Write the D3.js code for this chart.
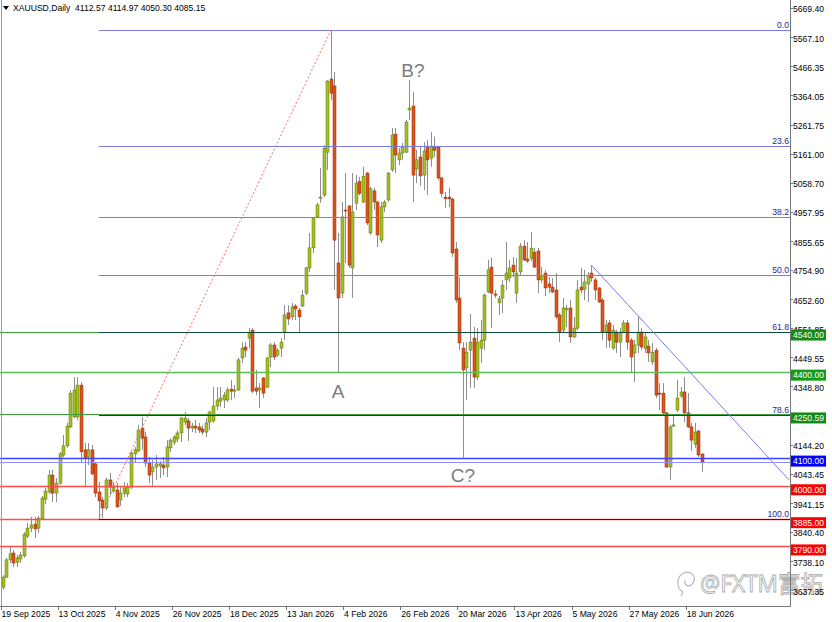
<!DOCTYPE html>
<html>
<head>
<meta charset="utf-8">
<script src="https://cdn.jsdelivr.net/npm/d3@7/dist/d3.min.js"></script>
<style>
  body { margin: 0; background: #fff; }
  svg { display: block; font-family: "Liberation Sans", Arial, sans-serif; }
</style>
</head>
<body>
<svg id="chart" width="832" height="622"></svg>
<script>
// daily XAUUSD bars (bar 0 = 19 Sep 2025)
let opens = [
  3648,3683,3743,3767,3735,3746,3757,3826,3854,3868,
  3854,3886,3955,3980,4039,3976,4011,4109,4141,4207,
  4242,4242,4353,4127,4102,4127,4078,3980,3952,3924,
  4022,3983,3987,3952,3976,3973,3997,4113,4123,4203,
  4172,4081,4050,4067,4071,4074,4067,4134,4154,4165,
  4186,4224,4228,4203,4210,4207,4200,4189,4224,4228,
  4280,4297,4301,4301,4339,4332,4336,4448,4486,4517,
  4545,4343,4336,4378,4346,4451,4493,4458,4482,4538,
  4605,4591,4629,4615,4629,4674,4762,4832,4940,5006,
  5016,5166,5421,5397,4779,4674,4964,4978,4762,4988,
  5063,4992,5093,4884,5031,4992,4859,4975,4999,5104,
  5229,5139,5163,5166,5313,5327,5107,5149,5086,5187,
  5145,5187,5184,5076,5009,5009,5002,4828,4657,4482,
  4413,4475,4517,4381,4482,4510,4678,4765,4671,4640,
  4657,4720,4727,4772,4674,4748,4838,4793,4796,4817,
  4821,4720,4744,4706,4695,4685,4598,4545,4615,4622,
  4521,4552,4695,4688,4706,4744,4720,4692,4650,4538,
  4570,4482,4538,4503,4538,4570,4510,4465,4493,4538,
  4482,4489,4434,4475,4325,4325,4256,4067,4210,4266,
  4315,4329,4256,4207,4147,4193,4112.57
];
let highs = [
  3690,3750,3788,3778,3760,3771,3840,3872,3893,3893,
  3896,3966,3994,4057,4057,4029,4120,4179,4221,4336,
  4381,4381,4364,4151,4151,4144,4081,4015,3962,4029,
  4046,4015,4011,3997,4015,4011,4123,4137,4214,4242,
  4190,4102,4092,4109,4088,4102,4161,4168,4179,4196,
  4242,4259,4238,4221,4231,4221,4214,4238,4263,4346,
  4346,4346,4329,4346,4371,4353,4448,4503,4503,4552,
  4552,4406,4360,4381,4451,4500,4503,4482,4517,4632,
  4632,4640,4636,4622,4685,4765,4884,4940,4989,5111,
  5191,5418,5592,5446,4884,4992,5093,4982,5093,5086,
  5080,5115,5097,5045,5042,4996,4992,4999,5097,5250,
  5250,5180,5198,5278,5418,5376,5174,5184,5201,5208,
  5236,5220,5187,5080,5027,5042,5006,4852,4730,4503,
  4503,4601,4556,4552,4580,4674,4790,4797,4685,4664,
  4720,4852,4790,4800,4797,4849,4859,4852,4887,4832,
  4832,4765,4755,4730,4727,4744,4605,4657,4633,4650,
  4591,4720,4762,4755,4748,4772,4727,4695,4657,4580,
  4580,4563,4545,4552,4580,4580,4517,4510,4594,4552,
  4535,4510,4500,4483,4360,4360,4259,4214,4249,4371,
  4346,4381,4325,4221,4221,4196,4114.97
];
let lows = [
  3638,3680,3732,3718,3718,3732,3750,3819,3840,3819,
  3837,3882,3938,3973,3945,3945,4004,4102,4134,4203,
  4238,4231,4081,3997,4074,4039,3962,3885,3889,3917,
  3969,3976,3924,3931,3962,3962,3990,4081,4120,4127,
  4067,4011,3997,4022,4029,4039,4032,4120,4144,4154,
  4154,4214,4158,4189,4186,4186,4179,4172,4196,4221,
  4266,4277,4273,4294,4301,4308,4332,4430,4451,4482,
  4325,4318,4273,4308,4343,4416,4441,4451,4451,4510,
  4563,4580,4580,4535,4626,4667,4748,4814,4936,4989,
  5009,5104,5348,4685,4399,4657,4779,4762,4657,4964,
  5016,4988,4912,4877,4964,4835,4849,4957,4992,5097,
  5093,5121,5139,5163,5278,4992,5058,5048,5034,5016,
  5115,5149,5069,5009,4971,4975,4800,4640,4475,4100,
  4301,4343,4343,4371,4430,4475,4674,4552,4657,4598,
  4605,4685,4713,4730,4640,4737,4786,4779,4786,4762,
  4674,4709,4664,4674,4674,4584,4503,4538,4556,4500,
  4517,4545,4674,4650,4643,4713,4650,4640,4510,4483,
  4483,4476,4465,4451,4535,4476,4399,4364,4465,4476,
  4465,4434,4423,4308,4266,4252,4064,4022,4207,4259,
  4308,4224,4203,4123,4134,4102,4050.30
];
let closes = [
  3683,3743,3764,3732,3750,3760,3833,3854,3865,3851,
  3889,3959,3983,4039,3976,4011,4113,4141,4210,4325,
  4336,4353,4120,4099,4127,4043,3976,3949,3924,4022,
  3997,3997,3928,3976,3994,3997,4116,4127,4196,4168,
  4081,4039,4067,4078,4078,4064,4137,4161,4172,4186,
  4238,4238,4203,4210,4203,4196,4189,4221,4259,4280,
  4301,4308,4318,4336,4332,4336,4441,4482,4475,4535,
  4332,4332,4343,4325,4448,4493,4451,4475,4503,4598,
  4584,4626,4619,4591,4667,4762,4832,4936,4982,5009,
  5180,5414,5372,4859,4657,4940,4961,4772,4957,5058,
  5022,5082,4919,5038,4992,4877,4975,4992,5093,5226,
  5156,5163,5184,5271,5320,5086,5139,5083,5170,5139,
  5187,5173,5076,5022,5003,5003,4814,4650,4500,4406,
  4468,4503,4381,4503,4510,4667,4755,4674,4667,4654,
  4702,4744,4762,4748,4744,4838,4790,4786,4831,4765,
  4720,4734,4692,4695,4678,4591,4538,4622,4622,4521,
  4552,4685,4685,4713,4734,4727,4685,4643,4538,4563,
  4510,4545,4503,4538,4570,4503,4451,4493,4538,4486,
  4521,4465,4468,4318,4322,4256,4067,4207,4214,4308,
  4329,4256,4207,4161,4189,4109,4085.15
];

let dateLabels = ["19 Sep 2025","13 Oct 2025","4 Nov 2025","26 Nov 2025","18 Dec 2025",
  "13 Jan 2026","4 Feb 2026","26 Feb 2026","20 Mar 2026","13 Apr 2026","5 May 2026",
  "27 May 2026","18 Jun 2026"];
let barsPerLabel = 16;

let priceTicks = [5669.40,5567.10,5466.35,5364.05,5261.75,5161.00,5058.70,4957.95,4855.65,
  4754.90,4652.60,4551.85,4449.55,4348.80,4246.50,4144.20,4043.45,3941.15,3840.40,3738.10,3637.35];

// horizontal levels drawn by the analyst
let levelPrices = [4540.00, 4400.00, 4250.59, 4100.00, 4000.00, 3885.00, 3790.00];
let levelKinds  = ["dkgreen","green","dkgreen","blue","red","red","red"];

// fibonacci retracement, low bar -> high bar
let fibLow = 3885, fibLowBar = 27;
let fibHigh = 5592, fibHighBar = 92;
let fibRatios = [0.0, 23.6, 38.2, 50.0, 61.8, 78.6, 100.0];

// down trendline (bar, price)
let trendBars = [165, 220.4];
let trendPrices = [4772, 4022];

let notes = [
  { text: "A",  bar: 94,  price: 4308 },
  { text: "B?", bar: 115, price: 5428 },
  { text: "C?", bar: 129, price: 4015 }
];

let symbol = "XAUUSD,Daily";

// ---------- drawing ----------
if (![highs, lows, closes].every(a => a.length === opens.length)) {
  throw new Error("array lengths differ");
}

let width = 832, height = 622;
let plotRight = 790, plotBottom = 606;
let font = "Liberation Sans, Arial, sans-serif";

let svg = d3.select("#chart");

let xScale = d3.scaleLinear().domain([0, opens.length - 1]).range([2.5, 702]);
let yScale = d3.scaleLinear().domain([3637.35, 5669.40]).range([590.16, 7.91]);
let snap = v => Math.round(v) + 0.5;

svg.append("rect").attr("width", width).attr("height", height).attr("fill", "#fff");

svg.append("clipPath").attr("id", "plot")
  .append("rect").attr("x", 0).attr("y", 0).attr("width", plotRight).attr("height", plotBottom);

let plot = svg.append("g").attr("clip-path", "url(#plot)");

let bars = d3.range(opens.length).map(i => ({
  i, o: opens[i], h: highs[i], l: lows[i], c: closes[i]
}));

// candles
let bodyW = 3;
plot.append("g").selectAll("line").data(bars).enter().append("line")
  .attr("x1", d => snap(xScale(d.i)))
  .attr("x2", d => snap(xScale(d.i)))
  .attr("y1", d => yScale(d.h))
  .attr("y2", d => yScale(d.l))
  .attr("stroke", "#8e8e8e").attr("stroke-width", 1);

plot.append("g").selectAll("rect").data(bars).enter().append("rect")
  .attr("x", d => snap(xScale(d.i)) - bodyW / 2)
  .attr("width", bodyW)
  .attr("y", d => yScale(Math.max(d.o, d.c)))
  .attr("height", d => Math.max(1, Math.abs(yScale(d.o) - yScale(d.c))))
  .attr("fill", d => d.c >= d.o ? "#a4c21f" : "#e0541c")
  .attr("stroke", d => d.c >= d.o ? "#5f7010" : "#8a2e0a")
  .attr("stroke-width", 0.5);

// level lines
let levelColor = { dkgreen: "#3a9f3a", green: "#5cbc5c", blue: "#4040ff", red: "#ff4d4d" };
let levelBox   = { dkgreen: "#158a15", green: "#159a15", blue: "#0000ff", red: "#ff0000" };
let levelWidth = { dkgreen: 1, green: 1.6, blue: 1.6, red: 1.6 };

plot.append("g").selectAll("line").data(levelPrices).enter().append("line")
  .attr("x1", 0).attr("x2", plotRight)
  .attr("y1", d => snap(yScale(d))).attr("y2", d => snap(yScale(d)))
  .attr("stroke", (d, i) => levelColor[levelKinds[i]])
  .attr("stroke-width", (d, i) => levelWidth[levelKinds[i]]);

// bid line
let bidY = snap(yScale(closes[closes.length - 1]));
plot.append("line")
  .attr("x1", 0).attr("x2", plotRight).attr("y1", bidY).attr("y2", bidY)
  .attr("stroke", "#8f8fff").attr("stroke-width", 1);

// fibonacci (where a fib level sits on a level line the two mix into a dark line)
let fibPrice = r => fibHigh - (fibHigh - fibLow) * r / 100;
let overlapKind = p => {
  let k = levelPrices.findIndex(q => Math.abs(yScale(q) - yScale(p)) < 2);
  return k < 0 ? null : levelKinds[k];
};
let fibMix = { dkgreen: "#0f4a3a", green: "#0f4a3a", red: "#24204a", blue: "#2020c0" };

let fibG = plot.append("g");
fibG.selectAll("line").data(fibRatios).enter().append("line")
  .attr("x1", xScale(fibLowBar)).attr("x2", plotRight)
  .attr("y1", d => snap(yScale(fibPrice(d)))).attr("y2", d => snap(yScale(fibPrice(d))))
  .attr("stroke", d => { let k = overlapKind(fibPrice(d)); return k ? fibMix[k] : "#7c7ce4"; })
  .attr("stroke-width", 1);

fibG.selectAll("text").data(fibRatios).enter().append("text")
  .attr("x", plotRight - 1)
  .attr("y", d => yScale(fibPrice(d)) - 2)
  .attr("text-anchor", "end")
  .attr("font-size", 8.6).attr("font-family", font)
  .attr("fill", "#1e1e9a")
  .text(d => d.toFixed(1));

plot.append("line")
  .attr("x1", xScale(fibLowBar)).attr("y1", yScale(fibLow))
  .attr("x2", xScale(fibHighBar)).attr("y2", yScale(fibHigh))
  .attr("stroke", "#ff6b6b").attr("stroke-width", 1)
  .attr("stroke-dasharray", "2,2");

// trendline
plot.append("line")
  .attr("x1", xScale(trendBars[0])).attr("y1", yScale(trendPrices[0]))
  .attr("x2", xScale(trendBars[1])).attr("y2", yScale(trendPrices[1]))
  .attr("stroke", "#7b7bf0").attr("stroke-width", 1);

// wave notes
plot.append("g").selectAll("text").data(notes).enter().append("text")
  .attr("x", d => xScale(d.bar))
  .attr("y", d => yScale(d.price))
  .attr("text-anchor", "middle")
  .attr("font-size", 19).attr("font-family", font)
  .attr("fill", "#7c7c7c")
  .text(d => d.text);

// watermark
let wm = svg.append("g").attr("opacity", 0.75);
wm.append("path")
  .attr("d", "M683,592 C676,588 676,576 684,573 C691,570 697,577 693,583 C690,588 684,586 685,580 M683,592 L681,596")
  .attr("fill", "none").attr("stroke", "#9a9a9a").attr("stroke-width", 1.1);
wm.append("text")
  .attr("x", 700).attr("y", 592)
  .attr("font-size", 23)
  .attr("textLength", 123).attr("lengthAdjust", "spacingAndGlyphs")
  .attr("font-family", "'Noto Sans', 'Noto Sans CJK SC', sans-serif")
  .attr("fill", "#ffffff").attr("fill-opacity", 0.5)
  .attr("stroke", "#8e8e8e").attr("stroke-width", 0.8)
  .text("@FXTM富拓");

// frame
svg.append("line").attr("x1", 1.5).attr("x2", 1.5).attr("y1", 0).attr("y2", plotBottom)
  .attr("stroke", "#9a9a9a");
svg.append("line").attr("x1", 0).attr("x2", plotRight + 0.5).attr("y1", plotBottom + 0.5).attr("y2", plotBottom + 0.5)
  .attr("stroke", "#777");
svg.append("line").attr("x1", plotRight + 0.5).attr("x2", plotRight + 0.5).attr("y1", 0).attr("y2", plotBottom + 0.5)
  .attr("stroke", "#777");

// price axis
let yAxisG = svg.append("g");
yAxisG.selectAll("line").data(priceTicks).enter().append("line")
  .attr("x1", plotRight).attr("x2", plotRight + 3)
  .attr("y1", d => snap(yScale(d))).attr("y2", d => snap(yScale(d)))
  .attr("stroke", "#777");
yAxisG.selectAll("text").data(priceTicks).enter().append("text")
  .attr("x", plotRight + 3)
  .attr("y", d => yScale(d) + 4.5)
  .attr("font-size", 8.6).attr("font-family", font).attr("fill", "#000")
  .text(d => d.toFixed(2));

// level price boxes
let boxG = svg.append("g");
levelPrices.forEach((p, i) => {
  let yy = yScale(p);
  boxG.append("rect")
    .attr("x", plotRight + 1).attr("y", yy - 2)
    .attr("width", 35).attr("height", 11)
    .attr("fill", levelBox[levelKinds[i]]);
  boxG.append("text")
    .attr("x", plotRight + 3).attr("y", yy + 6.8)
    .attr("font-size", 8.6).attr("font-family", font).attr("fill", "#fff")
    .text(p.toFixed(2));
});

// time axis
let xTicks = dateLabels.map((t, k) => ({ t, i: k * barsPerLabel }));
let xAxisG = svg.append("g");
xAxisG.selectAll("line").data(xTicks).enter().append("line")
  .attr("x1", d => Math.round(xScale(d.i)) - 1.5).attr("x2", d => Math.round(xScale(d.i)) - 1.5)
  .attr("y1", plotBottom).attr("y2", plotBottom + 4)
  .attr("stroke", "#777");
xAxisG.selectAll("text").data(xTicks).enter().append("text")
  .attr("x", d => xScale(d.i) - 1)
  .attr("y", 617)
  .attr("font-size", 8.6).attr("font-family", font).attr("fill", "#000")
  .text(d => d.t);

// header
let last = opens.length - 1;
svg.append("path").attr("d", "M3,6 L9,6 L6,10 Z").attr("fill", "#000");
svg.append("text")
  .attr("x", 13).attr("y", 11)
  .attr("font-size", 8.6).attr("font-family", font).attr("fill", "#000")
  .attr("xml:space", "preserve")
  .text(symbol + "  " + [opens[last], highs[last], lows[last], closes[last]].map(v => v.toFixed(2)).join(" "));
</script>
</body>
</html>
